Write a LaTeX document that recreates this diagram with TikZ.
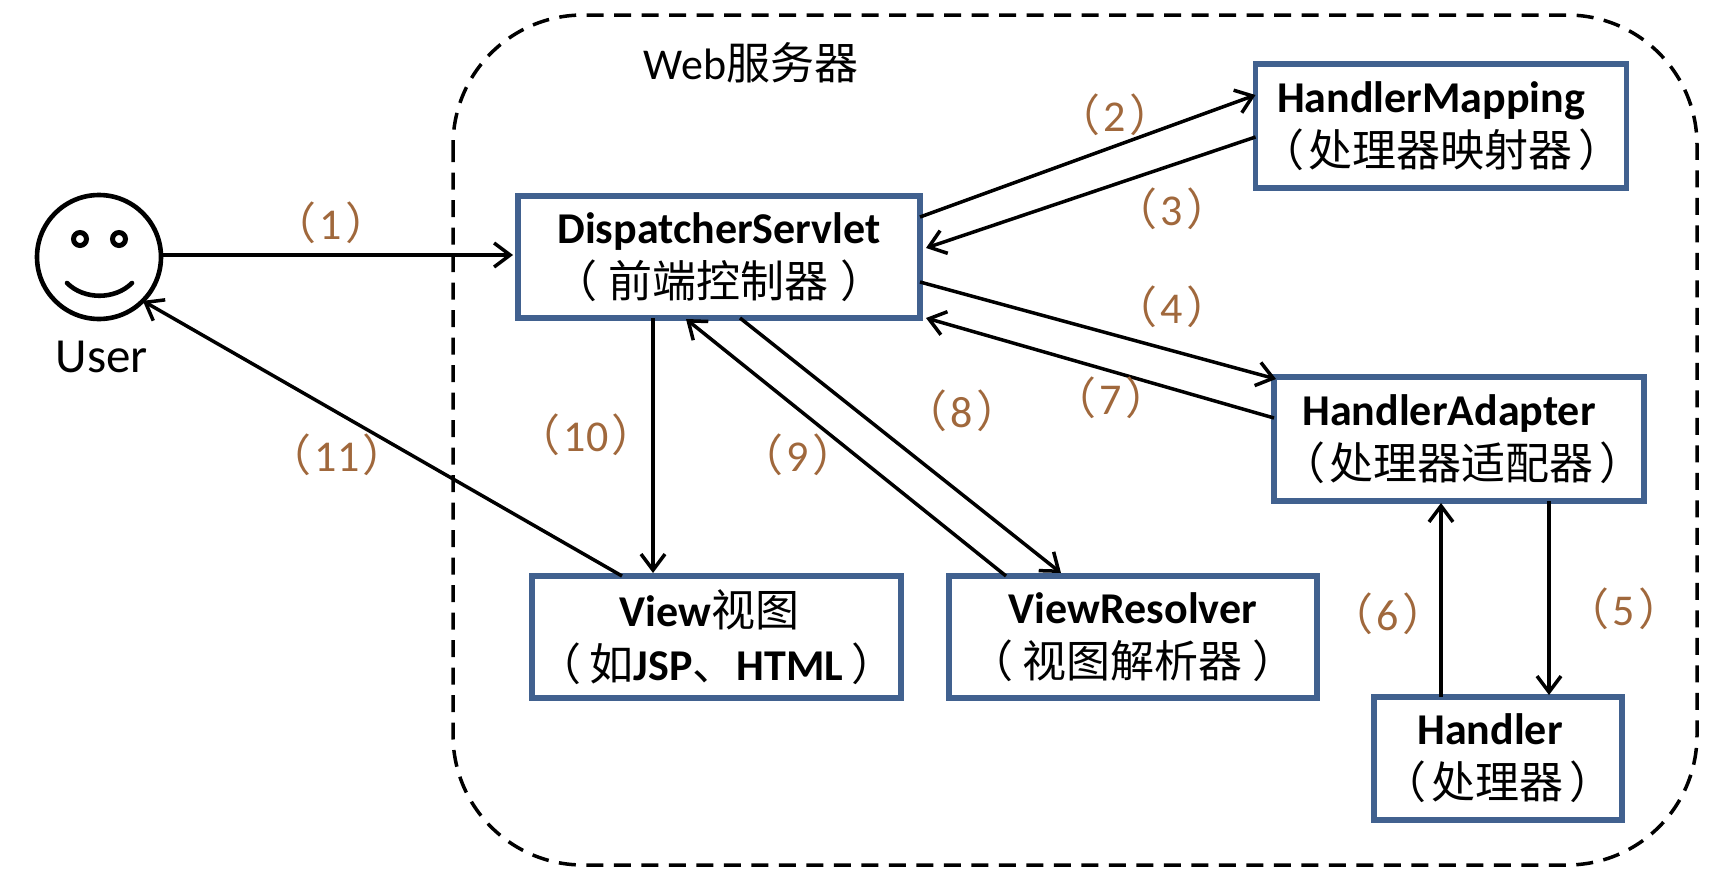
\documentclass[tikz,border=0pt]{standalone}
\usepackage{fontspec}
\setmainfont{Carlito}
\newfontfamily\cjk{Noto Sans CJK SC}
\usetikzlibrary{arrows.meta}
\newcommand{\zh}[1]{{\cjk\mdseries #1}}
\newcommand{\nudge}[1]{\rule{#1}{0pt}}
\newcommand{\paren}[1]{\zh{（}\kern3pt #1\kern3pt\zh{）}}
\newcommand{\wrap}[2]{\zh{（}\kern#1 #2\kern#1\zh{）}}
\definecolor{boxblue}{HTML}{41618F}
\definecolor{numbrown}{HTML}{A0683C}
\tikzset{
  box/.style={draw=boxblue,line width=5.5pt,inner sep=0pt,outer sep=0pt,align=center,font=\fontsize{44}{54}\selectfont\bfseries},
  conn/.style={line width=3.5pt,draw=black,-{Straight Barb[length=16pt,width=24pt,line width=3.5pt]}},
  num/.style={text=numbrown,inner sep=0pt,font=\fontsize{44}{44}\selectfont},
  eye/.style={circle,draw=black,line width=5pt,minimum size=13pt,inner sep=0pt,outer sep=0pt}
}
\begin{document}
\begin{tikzpicture}[x=1pt,y=-1pt]
\useasboundingbox (0,0) rectangle (1730,878);
\draw[line width=3.5pt,dash pattern=on 17pt off 10.5pt,rounded corners=130pt] (453,15) rectangle (1697,865);
\node[inner sep=0pt,font=\fontsize{44}{44}\selectfont] (web) at (751,63) {Web\zh{服务器}};
\node[circle,draw=black,line width=4.6pt,minimum size=124pt,inner sep=0pt,outer sep=0pt] (u) at (99,257) {};
\node[eye] (e1) at (80,239) {};
\node[eye] (e2) at (119,239) {};
\draw[line width=4.6pt,line cap=round] (67,283) .. controls (84,300) and (115,300) .. (132,283);
\node[inner sep=0pt,font=\fontsize{49}{49}\selectfont] (ulabel) at (102,357) {User};
\node[box,minimum width=402pt,minimum height=122pt] (ds) at (719,257) {DispatcherServlet\\\wrap{12pt}{\zh{前端控制器}}};
\node[box,minimum width=371pt,minimum height=124pt] (hm) at (1441,126) {HandlerMapping\nudge{20pt}\\\wrap{5pt}{\zh{处理器映射器}}};
\node[box,minimum width=370pt,minimum height=124pt] (ha) at (1459,439) {HandlerAdapter\nudge{20pt}\\\nudge{6pt}\wrap{5pt}{\zh{处理器适配器}}};
\node[box,minimum width=369pt,minimum height=122pt] (view) at (716.5,637) {View\zh{视图}\nudge{14pt}\\\wrap{8pt}{\zh{如}JSP\zh{、}HTML}};
\node[box,minimum width=368pt,minimum height=122pt] (vr) at (1133,637) {ViewResolver\\\wrap{10pt}{\zh{视图解析器}}};
\node[box,minimum width=248pt,minimum height=123pt] (h) at (1498,758.5) {Handler\nudge{16pt}\\\wrap{6pt}{\zh{处理器}}};
\draw[conn] ([yshift=2pt]u.east) -- ([xshift=-5pt,yshift=2pt]ds.west);
\draw[conn] ([yshift=-21pt]ds.north east) -- ([xshift=0pt,yshift=31pt]hm.west);
\draw[conn] ([yshift=-11pt]hm.west) -- ([xshift=6pt,yshift=9pt]ds.east);
\draw[conn] ([yshift=-25pt]ds.east) -- ([xshift=2pt,yshift=-2pt]ha.north west);
\draw[conn] ([yshift=21pt]ha.west) -- ([xshift=6pt]ds.south east);
\draw[conn] ([xshift=21pt]ds.south) -- ([xshift=-72pt,yshift=3pt]vr.north);
\draw[conn] ([xshift=-127pt]vr.north) -- ([xshift=-33pt,yshift=-1pt]ds.south);
\draw[conn] ([xshift=-66pt]ds.south) -- ([xshift=-63.5pt,yshift=3pt]view.north);
\draw[conn] ([xshift=-94.5pt]view.north) -- (u.-45);
\draw[conn] ([xshift=90pt]ha.south) -- ([xshift=51pt,yshift=2pt]h.north);
\draw[conn] ([xshift=-57pt]h.north) -- ([xshift=-18pt,yshift=-2pt]ha.south);
\node[num] (n1) at (331,223) {\paren{1}};
\node[num] (n2) at (1115,115) {\paren{2}};
\node[num] (n3) at (1172,209) {\paren{3}};
\node[num] (n4) at (1172,307) {\paren{4}};
\node[num] (n5) at (1624,609) {\paren{5}};
\node[num] (n6) at (1388,614) {\paren{6}};
\node[num] (n7) at (1111,398) {\paren{7}};
\node[num] (n8) at (962,411) {\paren{8}};
\node[num] (n9) at (798,455) {\paren{9}};
\node[num] (n10) at (586,435) {\paren{10}};
\node[num] (n11) at (337,455) {\paren{11}};
\end{tikzpicture}
\end{document}
